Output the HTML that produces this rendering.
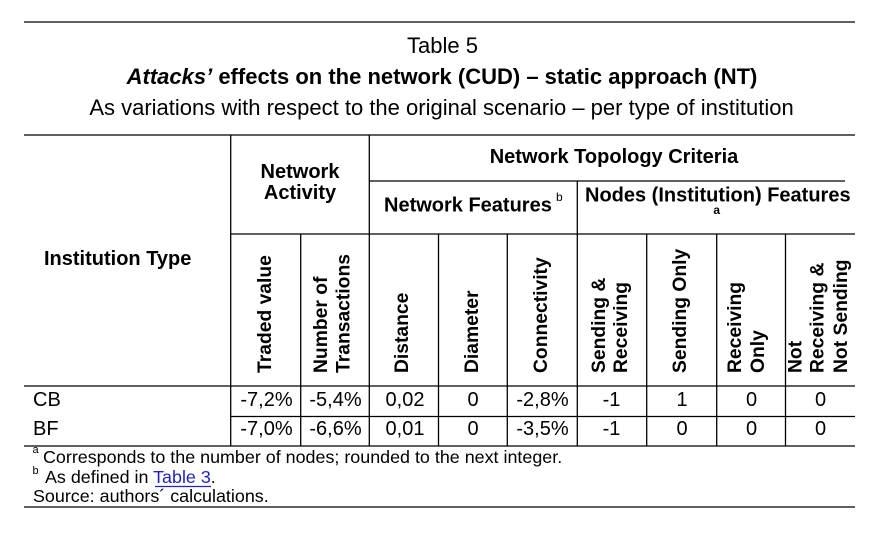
<!DOCTYPE html>
<html><head><meta charset="utf-8"><style>
html,body{margin:0;padding:0;background:#fff;}
svg{display:block;}
text{font-family:"Liberation Sans",Arial,sans-serif;fill:#000;}
.b{font-weight:bold;}
.v{font-weight:bold;font-size:19.3px;}
.d{font-size:20px;}
.f{font-size:17.9px;}
</style></head><body>
<svg width="889" height="553" viewBox="0 0 889 553" xmlns="http://www.w3.org/2000/svg">
<rect width="889" height="553" fill="#fff"/>
<g stroke="#000" stroke-width="1.3" fill="none">
<line x1="24" y1="22" x2="855" y2="22"/>
<line x1="24" y1="135" x2="855" y2="135"/>
<line x1="369" y1="181" x2="845" y2="181"/>
<line x1="230.7" y1="234" x2="855" y2="234"/>
<line x1="24" y1="386" x2="855" y2="386"/>
<line x1="230.7" y1="416.5" x2="855" y2="416.5"/>
<line x1="24" y1="446" x2="855" y2="446"/>
<line x1="24" y1="507" x2="855" y2="507"/>
<line x1="230.7" y1="135" x2="230.7" y2="446"/>
<line x1="369.3" y1="135" x2="369.3" y2="446"/>
<line x1="300.7" y1="234" x2="300.7" y2="446"/>
<line x1="438.5" y1="234" x2="438.5" y2="446"/>
<line x1="507.3" y1="234" x2="507.3" y2="446"/>
<line x1="577.3" y1="181" x2="577.3" y2="446"/>
<line x1="646.7" y1="234" x2="646.7" y2="446"/>
<line x1="716.7" y1="234" x2="716.7" y2="446"/>
<line x1="785.5" y1="234" x2="785.5" y2="446"/>
</g>

<text x="442.5" y="53" text-anchor="middle" font-size="22">Table 5</text>
<text x="442" y="84" text-anchor="middle" font-size="22" class="b"><tspan font-style="italic">Attacks’</tspan> effects on the network (CUD) – static approach (NT)</text>
<text x="441.5" y="115" text-anchor="middle" font-size="22">As variations with respect to the original scenario – per type of institution</text>

<text x="614" y="163" text-anchor="middle" font-size="20" class="b">Network Topology Criteria</text>
<text x="300" y="178" text-anchor="middle" font-size="20" class="b">Network</text>
<text x="300" y="199" text-anchor="middle" font-size="20" class="b">Activity</text>
<text x="384" y="211.5" font-size="20" class="b">Network Features</text>
<text x="556" y="201" font-size="12">b</text>
<text x="585" y="201.5" font-size="20" class="b">Nodes (Institution) Features</text>
<text x="716.7" y="214" text-anchor="middle" font-size="12" class="b">a</text>
<text x="44" y="265" font-size="20" class="b">Institution Type</text>

<text class="v" transform="translate(271,373) rotate(-90)">Traded value</text>
<text class="v" transform="translate(327,373) rotate(-90)">Number of</text>
<text class="v" transform="translate(349.5,373) rotate(-90)">Transactions</text>
<text class="v" transform="translate(408,373) rotate(-90)">Distance</text>
<text class="v" transform="translate(478,373) rotate(-90)">Diameter</text>
<text class="v" transform="translate(547,373) rotate(-90)">Connectivity</text>
<text class="v" transform="translate(605,373) rotate(-90)">Sending &amp;</text>
<text class="v" transform="translate(627,373) rotate(-90)">Receiving</text>
<text class="v" transform="translate(686,373) rotate(-90)">Sending Only</text>
<text class="v" transform="translate(741,373) rotate(-90)">Receiving</text>
<text class="v" transform="translate(764,373) rotate(-90)">Only</text>
<text class="v" transform="translate(801.5,373) rotate(-90)">Not</text>
<text class="v" transform="translate(823.5,373) rotate(-90)">Receiving &amp;</text>
<text class="v" transform="translate(847,373) rotate(-90)">Not Sending</text>

<text x="33" y="406" class="d">CB</text>
<text x="33" y="435" class="d">BF</text>
<g class="d" text-anchor="middle">
<text x="266.5" y="406" class="d">-7,2%</text>
<text x="335.5" y="406" class="d">-5,4%</text>
<text x="405" y="406" class="d">0,02</text>
<text x="473" y="406" class="d">0</text>
<text x="542.5" y="406" class="d">-2,8%</text>
<text x="611.5" y="406" class="d">-1</text>
<text x="682" y="406" class="d">1</text>
<text x="751.5" y="406" class="d">0</text>
<text x="820.5" y="406" class="d">0</text>
<text x="266.5" y="435" class="d">-7,0%</text>
<text x="335.5" y="435" class="d">-6,6%</text>
<text x="405" y="435" class="d">0,01</text>
<text x="473" y="435" class="d">0</text>
<text x="542.5" y="435" class="d">-3,5%</text>
<text x="611.5" y="435" class="d">-1</text>
<text x="682" y="435" class="d">0</text>
<text x="751.5" y="435" class="d">0</text>
<text x="820.5" y="435" class="d">0</text>
</g>

<text x="32.5" y="453" font-size="11">a</text>
<text x="43" y="463" class="f">Corresponds to the number of nodes; rounded to the next integer.</text>
<text x="32.5" y="474" font-size="11">b</text>
<text x="45" y="483" class="f">As defined in <tspan fill="#2222c4">Table 3</tspan>.</text>
<line x1="155" y1="486.5" x2="211" y2="486.5" stroke="#2222c4" stroke-width="1.2"/>
<text x="33" y="502" class="f">Source: authors´ calculations.</text>
</svg>
</body></html>
